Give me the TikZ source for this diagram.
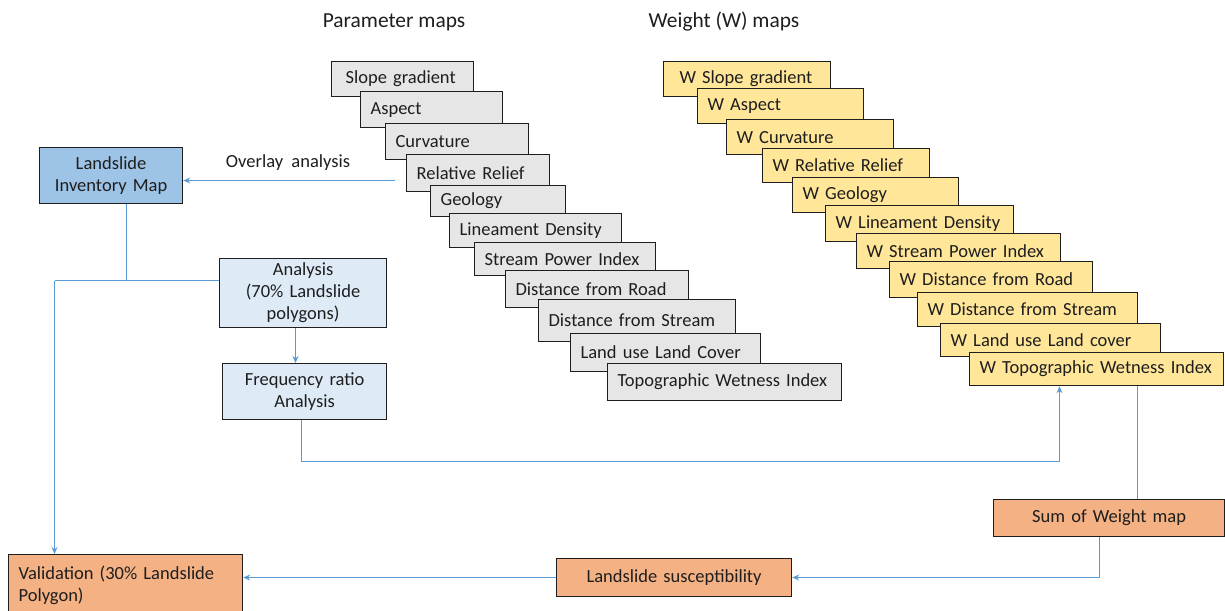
\documentclass[tikz,border=0pt]{standalone}
\usepackage{fontspec}
\setmainfont{Carlito}
\usetikzlibrary{arrows.meta}
\definecolor{pgray}{HTML}{E7E6E6}
\definecolor{wyel}{HTML}{FFE699}
\definecolor{oran}{HTML}{F4B183}
\definecolor{mblue}{HTML}{9DC3E6}
\definecolor{lblue}{HTML}{DEEBF7}
\definecolor{lnk}{HTML}{5B9BD5}
\definecolor{txt}{HTML}{1E1E1E}
\begin{document}
\begin{tikzpicture}[x=1pt,y=-1pt,
  every node/.style={text=txt},
  bx/.style={draw=txt, line width=1.2pt, anchor=north west, inner ysep=0pt, inner xsep=10pt,
    font=\fontsize{18.5}{22}\selectfont},
  pbox/.style={bx, fill=pgray, align=left},
  wbox/.style={bx, fill=wyel, align=left},
  cbox/.style={bx, align=center, inner xsep=2pt},
  link/.style={draw=lnk, line width=1.9pt},
  arr/.style={link, -{Stealth[length=7pt,width=6pt]}},
  ttl/.style={font=\fontsize{21.4}{25}\selectfont}
]
\useasboundingbox (0,0) rectangle (1225,610);
\fill[white] (0,0) rectangle (1225,610);

% titles
\node[ttl] (t1) at (394,22) {Parameter maps};
\node[ttl] (t2) at (724,22) {Weight (W) maps};

% parameter maps
\node[pbox, inner xsep=14pt, text width=114pt, minimum height=35pt] (p1) at (331,61) {Slope gradient};
\node[pbox, text width=122pt, minimum height=36pt] (p2) at (360,91) {Aspect};
\node[pbox, text width=123pt, minimum height=36pt] (p3) at (385,123) {Curvature};
\node[pbox, text width=123pt, minimum height=37pt] (p4) at (406,154) {Relative Relief};
\node[pbox, text width=115pt, minimum height=31pt] (p5) at (430,185) {Geology};
\node[pbox, text width=152pt, minimum height=34pt] (p6) at (449,213) {Lineament Density};
\node[pbox, text width=161pt, minimum height=33pt] (p7) at (474,242) {Stream Power Index};
\node[pbox, text width=163pt, minimum height=37pt] (p8) at (505,270) {Distance from Road};
\node[pbox, text width=177pt, minimum height=42pt] (p9) at (538,299) {Distance from Stream};
\node[pbox, text width=170pt, minimum height=38pt] (p10) at (570,333) {Land use Land Cover};
\node[pbox, text width=214pt, minimum height=37pt] (p11) at (607,363) {Topographic Wetness Index};

% weight maps
\node[wbox, inner xsep=16pt, text width=135pt, minimum height=35pt] (w1) at (663,61) {W Slope gradient};
\node[wbox, text width=146pt, minimum height=35pt] (w2) at (697,88) {W Aspect};
\node[wbox, text width=147pt, minimum height=35pt] (w3) at (726,119) {W Curvature};
\node[wbox, text width=147pt, minimum height=34pt] (w4) at (762,148) {W Relative Relief};
\node[wbox, text width=146pt, minimum height=35pt] (w5) at (792,177) {W Geology};
\node[wbox, text width=168pt, minimum height=36pt] (w6) at (825,205) {W Lineament Density};
\node[wbox, text width=184pt, minimum height=35pt] (w7) at (856,233) {W Stream Power Index};
\node[wbox, text width=183pt, minimum height=36pt] (w8) at (889,261) {W Distance from Road};
\node[wbox, text width=200pt, minimum height=34pt] (w9) at (917,292) {W Distance from Stream};
\node[wbox, text width=200pt, minimum height=33pt] (w10) at (940,323) {W Land use Land cover};
\node[wbox, text width=234pt, minimum height=33pt] (w11) at (969,352) {W Topographic Wetness Index};

% left boxes
\node[cbox, fill=mblue, text width=139pt, minimum height=56pt] (inv) at (39,147) {Landslide\\Inventory Map};
\node[cbox, fill=lblue, text width=163pt, minimum height=69pt] (ana) at (219,258) {Analysis\\(70\% Landslide\\polygons)};
\node[cbox, fill=lblue, text width=160pt, minimum height=56pt] (fr) at (222,363) {Frequency ratio\\Analysis};

% bottom boxes
\node[bx, fill=oran, align=left, text width=214pt, minimum height=62pt] (val) at (8,554) {Validation (30\% Landslide\\Polygon)};
\node[cbox, fill=oran, text width=231pt, minimum height=38pt] (sus) at (556,558) {Landslide susceptibility};
\node[cbox, fill=oran, text width=227pt, minimum height=37pt] (sum) at (993,499) {Sum of Weight map};

% connectors
\coordinate (ov) at (395,180.5);
\draw[arr] (ov) -- (ov -| inv.east);
\node[font=\fontsize{18.5}{22}\selectfont] (ovl) at (288,163) {Overlay\ \ analysis};

\coordinate (j1) at (54.5,280.5);
\coordinate (i1) at (126.5,280.5);
\draw[link] (i1 |- inv.south) -- (i1);
\draw[link] (j1) -- (j1 -| ana.west);
\draw[arr] (j1) -- (j1 |- val.north);

\coordinate (a1) at (295.5,340);
\draw[arr] (a1 |- ana.south) -- (a1 |- fr.north);

\coordinate (j2) at (301.5,461.5);
\coordinate (j3) at (1059.5,461.5);
\draw[arr] (j2 |- fr.south) -- (j2) -- (j3) -- (j3 |- w11.south);

\coordinate (s1) at (1137.5,450);
\draw[link] (s1 |- w11.south) -- (s1 |- sum.north);

\coordinate (j4) at (1099.5,577.5);
\draw[arr] (j4 |- sum.south) -- (j4) -- (j4 -| sus.east);
\coordinate (v1) at (400,577.5);
\draw[arr] (v1 -| sus.west) -- (v1 -| val.east);
\end{tikzpicture}
\end{document}
